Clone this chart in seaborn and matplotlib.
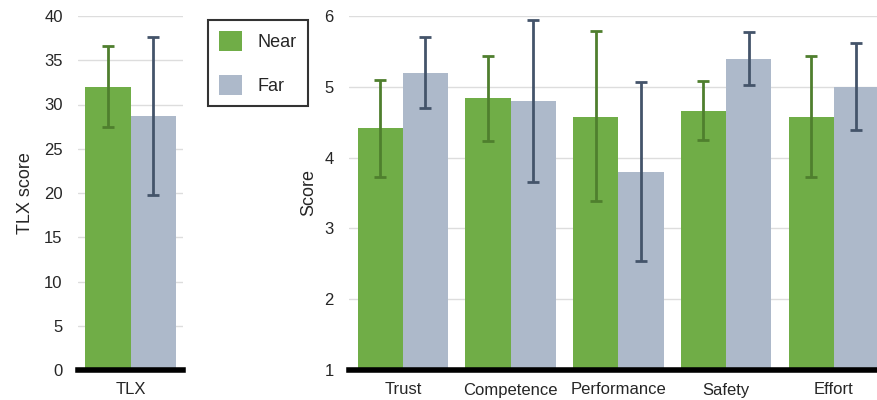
import numpy as np
import pandas as pd
import matplotlib
matplotlib.use("Agg")
import matplotlib.pyplot as plt
import seaborn as sns
from matplotlib.patches import Patch

# data
conditions = ["Near", "Far"]

tlx_mean = [32.0, 28.7]
tlx_low = [27.5, 19.8]
tlx_high = [36.6, 37.6]

measures = ["Trust", "Competence", "Performance", "Safety", "Effort"]
near_mean = [4.42, 4.84, 4.58, 4.66, 4.57]
near_low = [3.73, 4.24, 3.38, 4.25, 3.73]
near_high = [5.10, 5.44, 5.79, 5.08, 5.44]
far_mean = [5.19, 4.80, 3.79, 5.39, 5.00]
far_low = [4.70, 3.66, 2.54, 5.03, 4.39]
far_high = [5.70, 5.94, 5.07, 5.77, 5.62]

bar_colors = {"Near": "#70ad47", "Far": "#adb9ca"}
err_colors = {"Near": "#4f7f2e", "Far": "#44546a"}

sns.set_theme(style="white")
plt.rcParams["font.family"] = ["Liberation Sans", "DejaVu Sans"]

fig = plt.figure(figsize=(8.78, 4.0), dpi=100)
ax1 = fig.add_axes([78 / 878, 0.075, 105 / 878, 0.885])
ax2 = fig.add_axes([349 / 878, 0.075, 529 / 878, 0.885])

tlx_df = pd.DataFrame({"measure": ["TLX", "TLX"], "condition": conditions,
                       "value": tlx_mean})
sub_df = pd.DataFrame({
    "measure": measures * 2,
    "condition": ["Near"] * 5 + ["Far"] * 5,
    "value": near_mean + far_mean,
})


def draw(ax, df, lows, highs, width):
    sns.barplot(data=df, x="measure", y="value", hue="condition",
                hue_order=conditions, palette=bar_colors, width=width,
                saturation=1, errorbar=None, legend=False, linewidth=0,
                ax=ax)
    # error bars drawn on the centres of the bars seaborn placed
    for cond, container in zip(conditions, ax.containers):
        vals = df[df["condition"] == cond]["value"].to_numpy()
        lo = np.array(lows[cond])
        hi = np.array(highs[cond])
        xs = [p.get_x() + p.get_width() / 2 for p in container.patches]
        ax.errorbar(xs, vals, yerr=[vals - lo, hi - vals], fmt="none",
                    ecolor=err_colors[cond], elinewidth=2, capsize=4,
                    capthick=2, zorder=5)
    for s in ["left", "right", "top"]:
        ax.spines[s].set_visible(False)
    ax.spines["bottom"].set_color("black")
    ax.spines["bottom"].set_linewidth(4)
    ax.spines["bottom"].set_zorder(6)
    ax.yaxis.grid(True, color="#dddddd", linewidth=1)
    ax.set_axisbelow(True)
    ax.tick_params(axis="both", length=0, labelsize=12, colors="#262626")
    ax.tick_params(axis="y", pad=11)
    ax.tick_params(axis="x", pad=9)
    ax.set_xlabel("")


draw(ax1, tlx_df, {"Near": [tlx_low[0]], "Far": [tlx_low[1]]},
     {"Near": [tlx_high[0]], "Far": [tlx_high[1]]}, 0.86)
ax1.set_ylim(0, 40)
ax1.set_yticks(range(0, 41, 5))
ax1.set_xlim(-0.5, 0.5)
ax1.set_ylabel("TLX score", fontsize=13, labelpad=7, color="#262626")

draw(ax2, sub_df, {"Near": near_low, "Far": far_low},
     {"Near": near_high, "Far": far_high}, 0.84)
ax2.set_ylim(1, 6)
ax2.set_yticks(range(1, 7))
ax2.set_xlim(-0.5, 4.41)
ax2.set_ylabel("Score", fontsize=13, labelpad=5, color="#262626")

handles = [Patch(facecolor=bar_colors[c], edgecolor="none", label=c)
           for c in conditions]
leg = fig.legend(handles=handles, loc="upper left",
                 bbox_to_anchor=(208 / 878, 1 - 20 / 400), frameon=True,
                 fancybox=False, fontsize=13, handlelength=1.3,
                 handleheight=1.3, labelspacing=1.35, borderpad=0.6,
                 handletextpad=0.85, borderaxespad=0)
leg.get_frame().set_edgecolor("black")
leg.get_frame().set_linewidth(1.5)

fig.savefig("out.png", dpi=100)
